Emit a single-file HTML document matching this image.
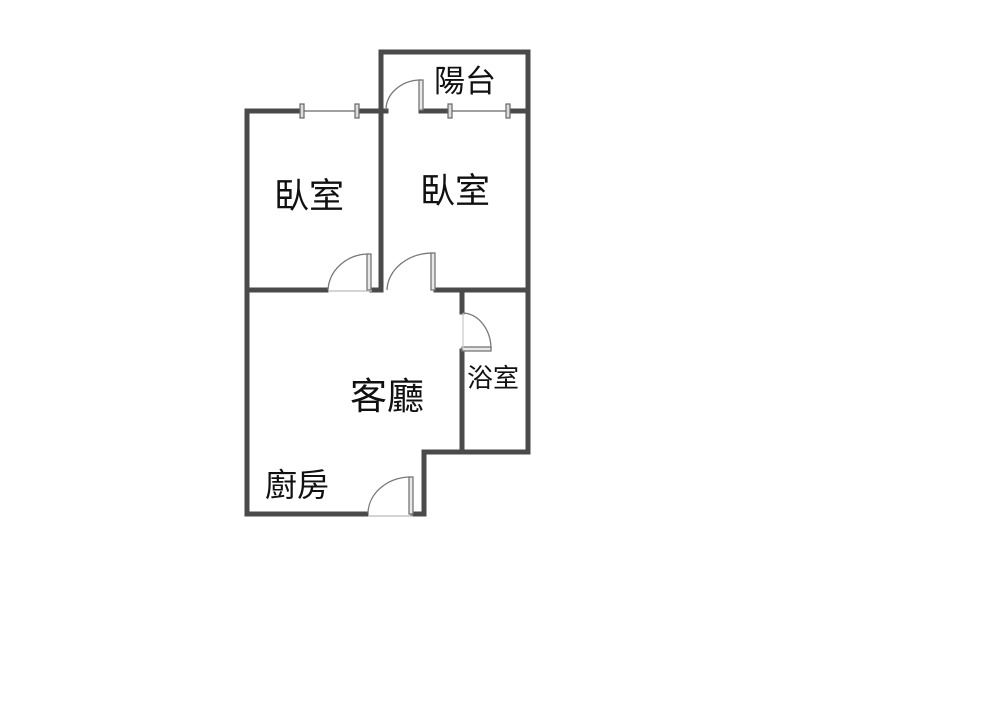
<!DOCTYPE html>
<html><head><meta charset="utf-8"><style>
html,body{margin:0;padding:0;background:#fff;}
svg{display:block}
text{font-family:"Liberation Sans","Noto Sans CJK TC",sans-serif;fill:#111;}
</style></head><body>
<svg width="1000" height="721" viewBox="0 0 1000 721" xmlns="http://www.w3.org/2000/svg">
<g stroke="#4a4a4a" stroke-width="5" fill="none" stroke-linecap="square">
<line x1="247" y1="111" x2="247" y2="514"/>
<line x1="247" y1="111" x2="302" y2="111"/>
<line x1="357" y1="111" x2="381" y2="111"/>
<line x1="381" y1="52" x2="381" y2="290"/>
<line x1="381" y1="52" x2="528" y2="52"/>
<line x1="528" y1="52" x2="528" y2="452"/>
<line x1="381" y1="111" x2="386" y2="111"/>
<line x1="421" y1="111" x2="450" y2="111"/>
<line x1="508" y1="111" x2="528" y2="111"/>
<line x1="247" y1="290" x2="326" y2="290"/>
<line x1="372" y1="290" x2="381" y2="290"/>
<line x1="436" y1="290" x2="528" y2="290"/>
<line x1="462" y1="290" x2="462" y2="312"/>
<line x1="462" y1="351" x2="462" y2="452"/>
<line x1="424" y1="452" x2="528" y2="452"/>
<line x1="424" y1="452" x2="424" y2="514"/>
<line x1="247" y1="514" x2="366" y2="514"/>
<line x1="413" y1="514" x2="424" y2="514"/>
</g>
<g stroke="#666" stroke-width="1.2" fill="#ddd">
<line x1="302" y1="111" x2="357" y2="111"/>
<line x1="450" y1="111" x2="508" y2="111"/>
<rect x="300" y="104" width="4" height="14"/>
<rect x="355" y="104" width="4" height="14"/>
<rect x="448" y="104" width="4" height="14"/>
<rect x="506" y="104" width="4" height="14"/>
</g>
<g stroke="#777" stroke-width="1.3" fill="none">
<path d="M328 290 A41 38 0 0 1 369 254"/>
<rect x="367" y="254" width="4" height="36" fill="#e8e8e8"/>
<line x1="328" y1="291" x2="372" y2="291" stroke="#bbb"/>
<path d="M387 290 A46 38 0 0 1 433 253"/>
<rect x="431" y="253" width="4" height="37" fill="#e8e8e8"/>
<path d="M386 110 A35 30 0 0 1 421 80"/>
<rect x="419" y="80" width="4" height="30" fill="#e8e8e8"/>
<path d="M463 313 A29 36 0 0 1 491 349"/>
<rect x="462" y="347" width="29" height="4" fill="#e8e8e8"/>
<line x1="463" y1="313" x2="463" y2="349" stroke="#ccc"/>
<path d="M368 513 A43 37 0 0 1 411 477"/>
<rect x="409" y="477" width="4" height="37" fill="#e8e8e8"/>
<line x1="368" y1="516" x2="413" y2="516" stroke="#bbb"/>
</g>
<text x="309" y="208" font-size="35" text-anchor="middle">臥室</text>
<text x="455" y="203" font-size="35" text-anchor="middle">臥室</text>
<text x="465" y="92" font-size="31" text-anchor="middle">陽台</text>
<text x="387" y="409" font-size="37" text-anchor="middle">客廳</text>
<text x="493" y="387" font-size="26" text-anchor="middle">浴室</text>
<text x="297" y="496" font-size="32" text-anchor="middle">廚房</text>
</svg>
</body></html>
